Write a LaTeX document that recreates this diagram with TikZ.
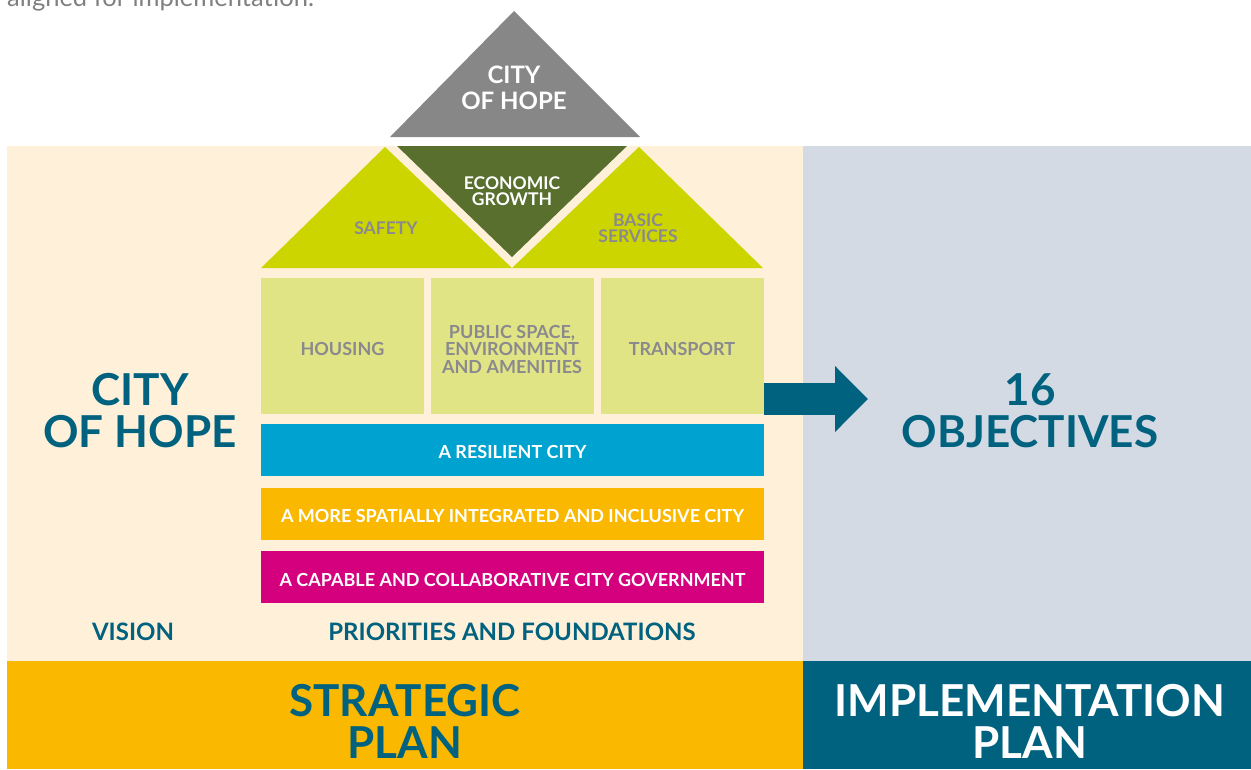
\documentclass[tikz,border=0pt]{standalone}
\usepackage{fontspec}
\setmainfont{Lato}
\usetikzlibrary{arrows.meta}
\definecolor{cream}{HTML}{FEF0D9}
\definecolor{slate}{HTML}{D3DAE4}
\definecolor{gold}{HTML}{FAB900}
\definecolor{teal}{HTML}{00627F}
\definecolor{roofgrey}{HTML}{878787}
\definecolor{darkgreen}{HTML}{586F2E}
\definecolor{lime}{HTML}{CDD500}
\definecolor{palelime}{HTML}{E1E485}
\definecolor{resblue}{HTML}{00A3CF}
\definecolor{magenta}{HTML}{D5007D}
\definecolor{greytext}{HTML}{8A8A8E}
\definecolor{introgrey}{HTML}{808080}
\begin{document}
\begin{tikzpicture}[x=1pt, y=-1pt,
  lbl/.style={font=\bfseries\fontsize{17.5}{16.5}\selectfont, align=center, inner sep=0},
  box/.style={fill=palelime, minimum width=163pt, minimum height=136pt, inner sep=0},
  boxtext/.style={text=greytext, font=\bfseries\fontsize{18}{17.5}\selectfont, align=center, inner sep=0},
  band/.style={minimum width=503pt, minimum height=52pt, inner sep=0},
  bandtext/.style={text=white, font=\bfseries\fontsize{18}{18}\selectfont, inner sep=0},
  big/.style={font=\bfseries\fontsize{44}{42}\selectfont, align=center, inner sep=0},
  caption/.style={font=\bfseries\fontsize{24}{24}\selectfont, text=teal, inner sep=0}]
\useasboundingbox (0,0) rectangle (1251,769);
\node[anchor=base west, text=introgrey, font=\fontsize{25.5}{25.5}\selectfont, inner sep=0] (intro) at (7,6) {aligned for implementation.};
\fill[cream] (7,146) rectangle (803,661);
\fill[slate] (803,146) rectangle (1251,661);
\fill[gold] (7,661) rectangle (803,769);
\fill[teal] (803,661) rectangle (1251,769);
\fill[roofgrey] (514,11) -- (640,137) -- (390,137) -- cycle;
\fill[darkgreen] (397,146) -- (627,146) -- (512,257) -- cycle;
\fill[lime] (385,147) -- (512,268) -- (261,268) -- cycle;
\fill[lime] (639,147) -- (763,268) -- (512,268) -- cycle;
\node[lbl, text=white, font=\bfseries\fontsize{24}{26}\selectfont] (hope) at (514,88) {CITY\\OF HOPE};
\node[lbl, text=white] (growth) at (512,191) {ECONOMIC\\GROWTH};
\node[lbl, text=greytext] (safety) at (386,228) {SAFETY};
\node[lbl, text=greytext] (basic) at (638,228) {BASIC\\SERVICES};
\node[box] (housing) at (342.5,346) {};
\node[box] (public) at (512,346) {};
\node[box] (transport) at (682,346) {};
\node[boxtext] (housingtxt) at ([yshift=-3pt]housing.center) {HOUSING};
\node[boxtext] (publictxt) at ([yshift=-3pt]public.center) {PUBLIC SPACE,\\ENVIRONMENT\\AND AMENITIES};
\node[boxtext] (transporttxt) at ([yshift=-3pt]transport.center) {TRANSPORT};
\node[band, fill=resblue] (resilient) at (512.5,450) {};
\node[band, fill=gold] (inclusive) at (512.5,514) {};
\node[band, fill=magenta] (capable) at (512.5,577) {};
\node[bandtext] (resilienttxt) at ([yshift=-2pt]resilient.center) {A RESILIENT CITY};
\node[bandtext] (inclusivetxt) at ([yshift=-2pt]inclusive.center) {A MORE SPATIALLY INTEGRATED AND INCLUSIVE CITY};
\node[bandtext] (capabletxt) at ([yshift=-3pt]capable.center) {A CAPABLE AND COLLABORATIVE CITY GOVERNMENT};
\coordinate (arrowtip) at (868,399);
\draw[teal, line width=32pt, -{Triangle[length=33pt, width=64pt]}] (transport.east |- arrowtip) -- (arrowtip);
\node[big, text=teal] (vision) at (140,411) {CITY\\OF HOPE};
\node[big, text=teal] (objectives) at (1030,411) {16\\OBJECTIVES};
\node[caption] (visionlbl) at (133,632) {VISION};
\node[caption] (prioritieslbl) at (512,632) {PRIORITIES AND FOUNDATIONS};
\node[big, text=teal] (strategic) at (405,721) {STRATEGIC\\PLAN};
\node[big, text=white] (implementation) at (1030,721) {IMPLEMENTATION\\PLAN};
\end{tikzpicture}
\end{document}
